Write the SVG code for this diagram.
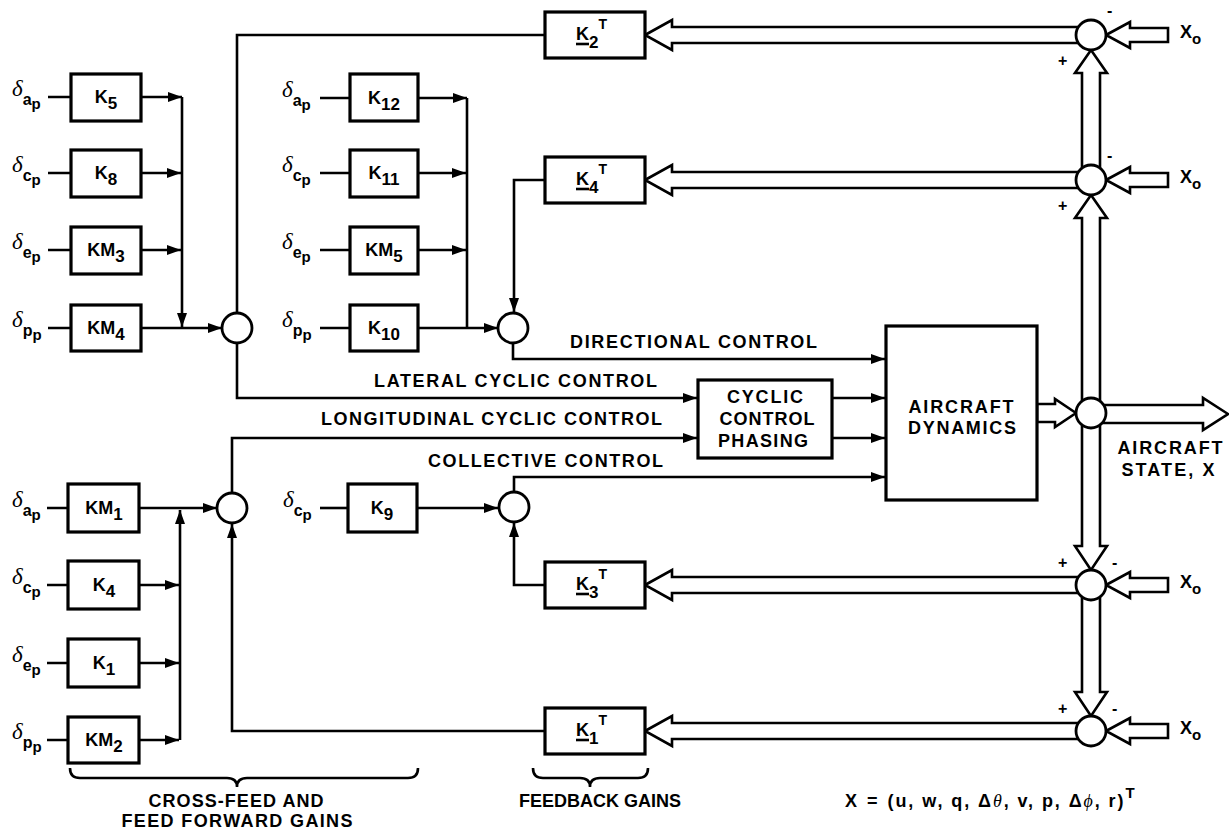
<svg xmlns="http://www.w3.org/2000/svg" width="1229" height="832" viewBox="0 0 1229 832">
<defs>
<style>
.ln{stroke:#000;stroke-width:2.6;fill:none}
.bx{fill:#fff;stroke:#000;stroke-width:3.2}
.hb{fill:#fff;stroke:#000;stroke-width:2.6;stroke-linejoin:miter}
.cr{fill:#fff;stroke:#000;stroke-width:2.8}
.t{font-family:"Liberation Sans",Arial,sans-serif;font-weight:bold;font-size:18px;fill:#000}
.k{font-family:"Liberation Sans",Arial,sans-serif;font-weight:bold;font-size:18px;fill:#000}
.dl{font-family:"Liberation Sans",Arial,sans-serif;font-weight:bold;font-size:16px;fill:#000}
.dg{font-family:"Liberation Serif","DejaVu Serif",serif;font-style:italic;font-weight:normal;font-size:23px}
.s2{font-size:15px}
.sg{font-family:"Liberation Sans",Arial,sans-serif;font-weight:bold;font-size:16px;fill:#000}
.gr{font-family:"Liberation Serif",serif;font-style:italic;font-weight:normal}
</style>
<marker id="ah" viewBox="0 0 14 10" refX="14" refY="5" markerWidth="14" markerHeight="10" markerUnits="userSpaceOnUse" orient="auto"><path d="M0,0 L14,5 L0,10 z" fill="#000"/></marker>
</defs>
<rect width="1229" height="832" fill="#fff"/>

<g id="connectors">
<path class="ln" d="M48,97 H71 M48,173 H71 M48,250 H71 M48,328 H71"/>
<path class="ln" d="M141,97 H182" marker-end="url(#ah)"/>
<path class="ln" d="M141,173 H181" marker-end="url(#ah)"/>
<path class="ln" d="M141,250 H181" marker-end="url(#ah)"/>
<path class="ln" d="M182,97 V327" marker-end="url(#ah)"/>
<path class="ln" d="M141,328 H222" marker-end="url(#ah)"/>
<path class="ln" d="M237,313 V35 H545"/>
<path class="ln" d="M237,343 V398 H697" marker-end="url(#ah)"/>
<path class="ln" d="M320,98 H350 M320,173 H350 M320,250 H350 M320,328 H350"/>
<path class="ln" d="M418,98 H467" marker-end="url(#ah)"/>
<path class="ln" d="M418,173 H466" marker-end="url(#ah)"/>
<path class="ln" d="M418,250 H466" marker-end="url(#ah)"/>
<path class="ln" d="M467,98 V328"/>
<path class="ln" d="M418,328 H498" marker-end="url(#ah)"/>
<path class="ln" d="M545,180 H514 V312" marker-end="url(#ah)"/>
<path class="ln" d="M513,343 V359 H885" marker-end="url(#ah)"/>
<path class="ln" d="M47,508 H68 M47,585 H68 M47,663 H68 M47,740 H68"/>
<path class="ln" d="M139,508 H217" marker-end="url(#ah)"/>
<path class="ln" d="M139,585 H179" marker-end="url(#ah)"/>
<path class="ln" d="M139,663 H179" marker-end="url(#ah)"/>
<path class="ln" d="M139,740 H179" marker-end="url(#ah)"/>
<path class="ln" d="M180,740 V510" marker-end="url(#ah)"/>
<path class="ln" d="M232,493 V438 H697" marker-end="url(#ah)"/>
<path class="ln" d="M545,731 H232 V524" marker-end="url(#ah)"/>
<path class="ln" d="M320,508 H348"/>
<path class="ln" d="M417,508 H498" marker-end="url(#ah)"/>
<path class="ln" d="M514,492 V477 H885" marker-end="url(#ah)"/>
<path class="ln" d="M545,585 H514 V523" marker-end="url(#ah)"/>
<path class="ln" d="M832,398 H885" marker-end="url(#ah)"/>
<path class="ln" d="M832,438 H885" marker-end="url(#ah)"/>
<polygon class="hb" points="645,35 672,20 672,27 1085,27 1085,43 672,43 672,50"/>
<polygon class="hb" points="645,180 672,165 672,172 1085,172 1085,188 672,188 672,195"/>
<polygon class="hb" points="645,585 672,570 672,577 1085,577 1085,593 672,593 672,600"/>
<polygon class="hb" points="645,731 672,716 672,723 1085,723 1085,739 672,739 672,746"/>
<polygon class="hb" points="1106,35 1130,22 1130,28 1168,28 1168,42 1130,42 1130,48"/>
<polygon class="hb" points="1106,180 1130,167 1130,173 1168,173 1168,187 1130,187 1130,193"/>
<polygon class="hb" points="1106,585 1130,572 1130,578 1168,578 1168,592 1130,592 1130,598"/>
<polygon class="hb" points="1106,731 1130,718 1130,724 1168,724 1168,738 1130,738 1130,744"/>
<polygon class="hb" points="1091,195 1107,218 1100,218 1100,410 1082,410 1082,218 1075,218"/>
<polygon class="hb" points="1091,50 1107,73 1100,73 1100,180 1082,180 1082,73 1075,73"/>
<polygon class="hb" points="1091,570 1075,546 1082,546 1082,413 1100,413 1100,546 1107,546"/>
<polygon class="hb" points="1091,716 1075,692 1082,692 1082,585 1100,585 1100,692 1107,692"/>
<polygon class="hb" points="1228,414 1203,398 1203,405 1095,405 1095,423 1203,423 1203,430"/>
<polygon class="hb" points="1076,413 1055,399 1055,404 1037,404 1037,422 1055,422 1055,427"/>
<path class="ln" d="M70,768 Q70,778 80,778 L227,778 Q237,778 237,787 Q237,778 247,778 L408,778 Q418,778 418,768"/>
<path class="ln" d="M533,768 Q533,778 543,778 L580,778 Q590,778 590,787 Q590,778 600,778 L638,778 Q648,778 648,768"/>
</g>

<g id="sum-a"><circle class="cr" cx="237" cy="328" r="15"/></g>
<g id="sum-b"><circle class="cr" cx="513" cy="328" r="15"/></g>
<g id="sum-c"><circle class="cr" cx="232" cy="508" r="15"/></g>
<g id="sum-d"><circle class="cr" cx="514" cy="507" r="15"/></g>
<g id="sum-1"><circle class="cr" cx="1091" cy="35" r="15"/><text class="sg" x="1107" y="16">-</text><text class="sg" x="1058" y="66">+</text><text class="k" x="1180" y="38">X<tspan dy="6" font-size="15">o</tspan></text></g>
<g id="sum-2"><circle class="cr" cx="1091" cy="180" r="15"/><text class="sg" x="1107" y="161">-</text><text class="sg" x="1058" y="211">+</text><text class="k" x="1180" y="183">X<tspan dy="6" font-size="15">o</tspan></text></g>
<g id="sum-m"><circle class="cr" cx="1091" cy="413" r="15"/></g>
<g id="sum-3"><circle class="cr" cx="1091" cy="585" r="15"/><text class="sg" x="1058" y="568">+</text><text class="sg" x="1112" y="568">-</text><text class="k" x="1180" y="588">X<tspan dy="6" font-size="15">o</tspan></text></g>
<g id="sum-4"><circle class="cr" cx="1091" cy="731" r="15"/><text class="sg" x="1058" y="714">+</text><text class="sg" x="1112" y="714">-</text><text class="k" x="1180" y="734">X<tspan dy="6" font-size="15">o</tspan></text></g>

<g id="inputs">
<text class="dl" x="12" y="96"><tspan class="dg">δ</tspan><tspan dy="9">a</tspan><tspan dy="4" class="s2">p</tspan></text>
<text class="dl" x="12" y="172"><tspan class="dg">δ</tspan><tspan dy="9">c</tspan><tspan dy="4" class="s2">p</tspan></text>
<text class="dl" x="12" y="249"><tspan class="dg">δ</tspan><tspan dy="9">e</tspan><tspan dy="4" class="s2">p</tspan></text>
<text class="dl" x="12" y="327"><tspan class="dg">δ</tspan><tspan dy="9">p</tspan><tspan dy="4" class="s2">p</tspan></text>
<text class="dl" x="282" y="97"><tspan class="dg">δ</tspan><tspan dy="9">a</tspan><tspan dy="4" class="s2">p</tspan></text>
<text class="dl" x="282" y="172"><tspan class="dg">δ</tspan><tspan dy="9">c</tspan><tspan dy="4" class="s2">p</tspan></text>
<text class="dl" x="282" y="249"><tspan class="dg">δ</tspan><tspan dy="9">e</tspan><tspan dy="4" class="s2">p</tspan></text>
<text class="dl" x="282" y="327"><tspan class="dg">δ</tspan><tspan dy="9">p</tspan><tspan dy="4" class="s2">p</tspan></text>
<text class="dl" x="12" y="507"><tspan class="dg">δ</tspan><tspan dy="9">a</tspan><tspan dy="4" class="s2">p</tspan></text>
<text class="dl" x="12" y="584"><tspan class="dg">δ</tspan><tspan dy="9">c</tspan><tspan dy="4" class="s2">p</tspan></text>
<text class="dl" x="12" y="662"><tspan class="dg">δ</tspan><tspan dy="9">e</tspan><tspan dy="4" class="s2">p</tspan></text>
<text class="dl" x="12" y="739"><tspan class="dg">δ</tspan><tspan dy="9">p</tspan><tspan dy="4" class="s2">p</tspan></text>
<text class="dl" x="283" y="507"><tspan class="dg">δ</tspan><tspan dy="9">c</tspan><tspan dy="4" class="s2">p</tspan></text>
</g>

<g id="K5"><rect class="bx" x="71" y="74" width="70" height="47"/><text class="k" x="106" y="103" text-anchor="middle">K<tspan dy="6" font-size="17">5</tspan></text></g>
<g id="K8"><rect class="bx" x="71" y="150" width="70" height="47"/><text class="k" x="106" y="179" text-anchor="middle">K<tspan dy="6" font-size="17">8</tspan></text></g>
<g id="KM3"><rect class="bx" x="71" y="227" width="70" height="47"/><text class="k" x="106" y="256" text-anchor="middle">KM<tspan dy="6" font-size="17">3</tspan></text></g>
<g id="KM4"><rect class="bx" x="71" y="305" width="70" height="46"/><text class="k" x="106" y="334" text-anchor="middle">KM<tspan dy="6" font-size="17">4</tspan></text></g>
<g id="K12"><rect class="bx" x="350" y="74" width="68" height="47"/><text class="k" x="384" y="104" text-anchor="middle">K<tspan dy="6" font-size="17">12</tspan></text></g>
<g id="K11"><rect class="bx" x="350" y="150" width="68" height="47"/><text class="k" x="384" y="179" text-anchor="middle">K<tspan dy="6" font-size="17">11</tspan></text></g>
<g id="KM5"><rect class="bx" x="350" y="227" width="68" height="47"/><text class="k" x="384" y="256" text-anchor="middle">KM<tspan dy="6" font-size="17">5</tspan></text></g>
<g id="K10"><rect class="bx" x="350" y="305" width="68" height="46"/><text class="k" x="384" y="334" text-anchor="middle">K<tspan dy="6" font-size="17">10</tspan></text></g>
<g id="KM1"><rect class="bx" x="68" y="484" width="71" height="48"/><text class="k" x="104" y="514" text-anchor="middle">KM<tspan dy="6" font-size="17">1</tspan></text></g>
<g id="K4"><rect class="bx" x="68" y="561" width="71" height="48"/><text class="k" x="104" y="591" text-anchor="middle">K<tspan dy="6" font-size="17">4</tspan></text></g>
<g id="K1"><rect class="bx" x="68" y="639" width="71" height="48"/><text class="k" x="104" y="669" text-anchor="middle">K<tspan dy="6" font-size="17">1</tspan></text></g>
<g id="KM2"><rect class="bx" x="68" y="717" width="71" height="46"/><text class="k" x="104" y="746" text-anchor="middle">KM<tspan dy="6" font-size="17">2</tspan></text></g>
<g id="K9"><rect class="bx" x="348" y="484" width="69" height="48"/><text class="k" x="382" y="514" text-anchor="middle">K<tspan dy="6" font-size="17">9</tspan></text></g>

<g id="K2T"><rect class="bx" x="545" y="12" width="100" height="46"/><text class="k" x="576" y="40">K<tspan dy="8" font-size="17">2</tspan><tspan dy="-19" font-size="14">T</tspan></text><line class="ln" x1="576" y1="44" x2="589" y2="44"/></g>
<g id="K4T"><rect class="bx" x="545" y="157" width="100" height="46"/><text class="k" x="576" y="185">K<tspan dy="8" font-size="17">4</tspan><tspan dy="-19" font-size="14">T</tspan></text><line class="ln" x1="576" y1="189" x2="589" y2="189"/></g>
<g id="K3T"><rect class="bx" x="545" y="562" width="100" height="46"/><text class="k" x="576" y="590">K<tspan dy="8" font-size="17">3</tspan><tspan dy="-19" font-size="14">T</tspan></text><line class="ln" x1="576" y1="594" x2="589" y2="594"/></g>
<g id="K1T"><rect class="bx" x="545" y="708" width="100" height="46"/><text class="k" x="576" y="736">K<tspan dy="8" font-size="17">1</tspan><tspan dy="-19" font-size="14">T</tspan></text><line class="ln" x1="576" y1="740" x2="589" y2="740"/></g>

<g id="cyclic-phasing"><rect class="bx" x="698" y="380" width="134" height="78"/>
<text class="t" x="765" y="403" text-anchor="middle" textLength="76" lengthAdjust="spacing">CYCLIC</text>
<text class="t" x="767" y="425" text-anchor="middle" textLength="95" lengthAdjust="spacing">CONTROL</text>
<text class="t" x="763" y="447" text-anchor="middle" textLength="90" lengthAdjust="spacing">PHASING</text></g>

<g id="aircraft-dynamics"><rect class="bx" x="886" y="326" width="151" height="174"/>
<text class="t" x="961" y="413" text-anchor="middle" textLength="105" lengthAdjust="spacing">AIRCRAFT</text>
<text class="t" x="962" y="434" text-anchor="middle" textLength="108" lengthAdjust="spacing">DYNAMICS</text></g>

<g id="labels">
<text class="t" x="570" y="348" textLength="247" lengthAdjust="spacing">DIRECTIONAL CONTROL</text>
<text class="t" x="374" y="387" textLength="283" lengthAdjust="spacing">LATERAL CYCLIC CONTROL</text>
<text class="t" x="321" y="425" textLength="341" lengthAdjust="spacing">LONGITUDINAL CYCLIC CONTROL</text>
<text class="t" x="428" y="467" textLength="235" lengthAdjust="spacing">COLLECTIVE CONTROL</text>
<text class="t" x="1170" y="454" text-anchor="middle" textLength="105" lengthAdjust="spacing">AIRCRAFT</text>
<text class="t" x="1168" y="476" text-anchor="middle" textLength="93" lengthAdjust="spacing">STATE, X</text>
<text class="t" x="236" y="807" text-anchor="middle" textLength="175" lengthAdjust="spacing">CROSS-FEED AND</text>
<text class="t" x="237" y="827" text-anchor="middle" textLength="231" lengthAdjust="spacing">FEED FORWARD GAINS</text>
<text class="t" x="600" y="807" text-anchor="middle">FEEDBACK GAINS</text>
<text class="t" x="845" y="807" font-size="19">X<tspan dx="10">=</tspan><tspan dx="10" textLength="236" lengthAdjust="spacing">(u, w, q, Δ<tspan class="gr">θ</tspan>, v, p, Δ<tspan class="gr">ϕ</tspan>, r)</tspan><tspan dy="-9" font-size="15">T</tspan></text>
</g>
</svg>
